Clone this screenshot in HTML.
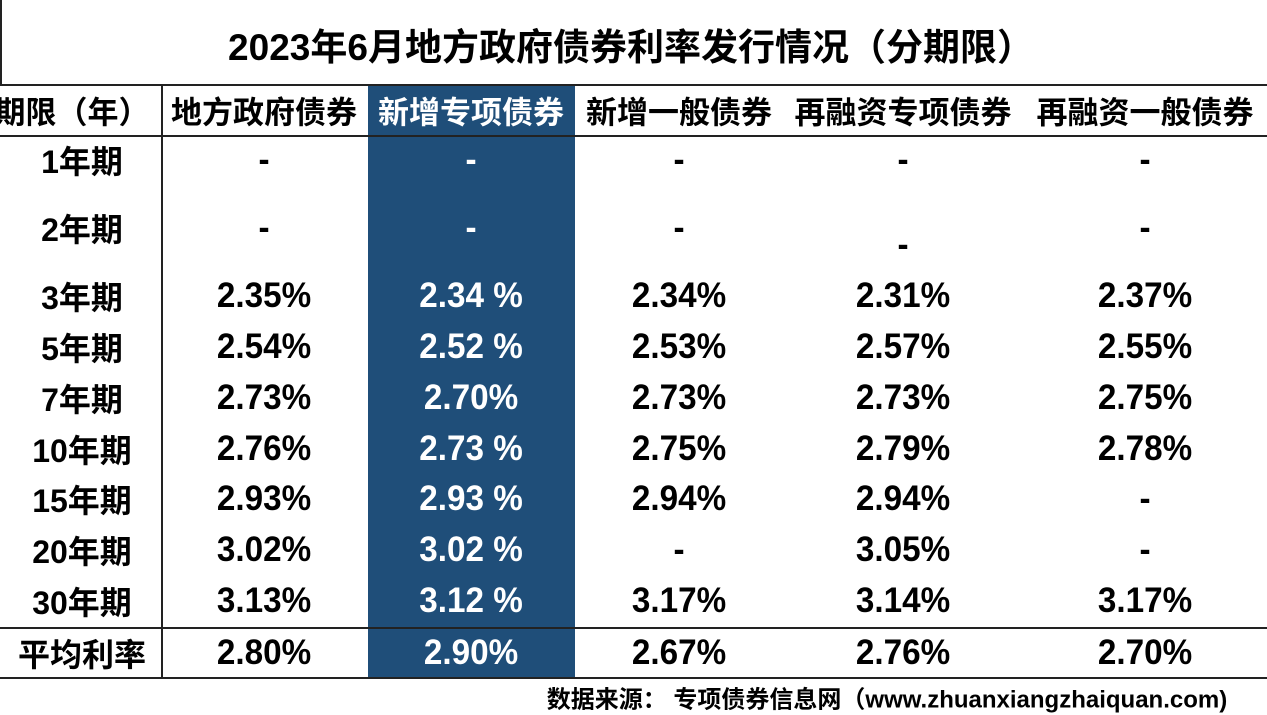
<!DOCTYPE html><html><head><meta charset="utf-8"><style>
body{margin:0;width:1267px;height:713px;background:#fff;position:relative;overflow:hidden;font-family:"Liberation Sans","Noto Sans CJK SC",sans-serif;font-weight:bold;color:#000}
.t{position:absolute;white-space:nowrap;transform:translate(-50%,-50%)}
.n{font-size:35px;transform:translate(-50%,-50%) scaleX(0.95)}
.r{font-size:32px}
.h{font-size:31px}
.w{color:#fff}
.l{position:absolute;background:#222}
</style></head><body>
<div style="position:absolute;left:368px;top:84px;width:207px;height:594px;background:#1f4e79"></div>
<div class="l" style="left:0;top:84px;width:1267px;height:2px"></div>
<div class="l" style="left:0;top:135px;width:1267px;height:2px"></div>
<div class="l" style="left:0;top:627px;width:1267px;height:2px"></div>
<div class="l" style="left:0;top:677px;width:1267px;height:2px"></div>
<div class="l" style="left:161px;top:84px;width:2px;height:594px"></div>
<div class="l" style="left:0;top:0;width:2px;height:84px"></div>
<div class="t" style="left:631px;top:44px;font-size:37px">2023年6月地方政府债券利率发行情况（分期限）</div>
<div class="t h" style="left:72px;top:110px">期限（年）</div>
<div class="t h" style="left:264px;top:110px">地方政府债券</div>
<div class="t h w" style="left:471px;top:110px">新增专项债券</div>
<div class="t h" style="left:679px;top:110px">新增一般债券</div>
<div class="t h" style="left:903px;top:110px">再融资专项债券</div>
<div class="t h" style="left:1145px;top:110px">再融资一般债券</div>
<div id="rows"></div>
<div class="t" style="left:887px;top:697px;font-size:24px">数据来源： 专项债券信息网（www.zhuanxiangzhaiquan.com)</div>
<script>
var ys=[160,228,296,347,398,449,499,550,601,653];
var d=[["1年期","-","-","-","-","-"],["2年期","-","-","-","-","-"],["3年期","2.35%","2.34 %","2.34%","2.31%","2.37%"],["5年期","2.54%","2.52 %","2.53%","2.57%","2.55%"],["7年期","2.73%","2.70%","2.73%","2.73%","2.75%"],["10年期","2.76%","2.73 %","2.75%","2.79%","2.78%"],["15年期","2.93%","2.93 %","2.94%","2.94%","-"],["20年期","3.02%","3.02 %","-","3.05%","-"],["30年期","3.13%","3.12 %","3.17%","3.14%","3.17%"],["平均利率","2.80%","2.90%","2.67%","2.76%","2.70%"]];
var xs=[82,264,471,679,903,1145],h="";
d.forEach(function(r,i){r.forEach(function(c,j){var y=ys[i];if(i==1&&j==4)y=245;
var cls=j==0?"t r":"t n"+(j==2?" w":"");
h+='<div class="'+cls+'" style="left:'+xs[j]+'px;top:'+y+'px">'+c+'</div>';});});
document.getElementById("rows").innerHTML=h;
</script>
</body></html>
